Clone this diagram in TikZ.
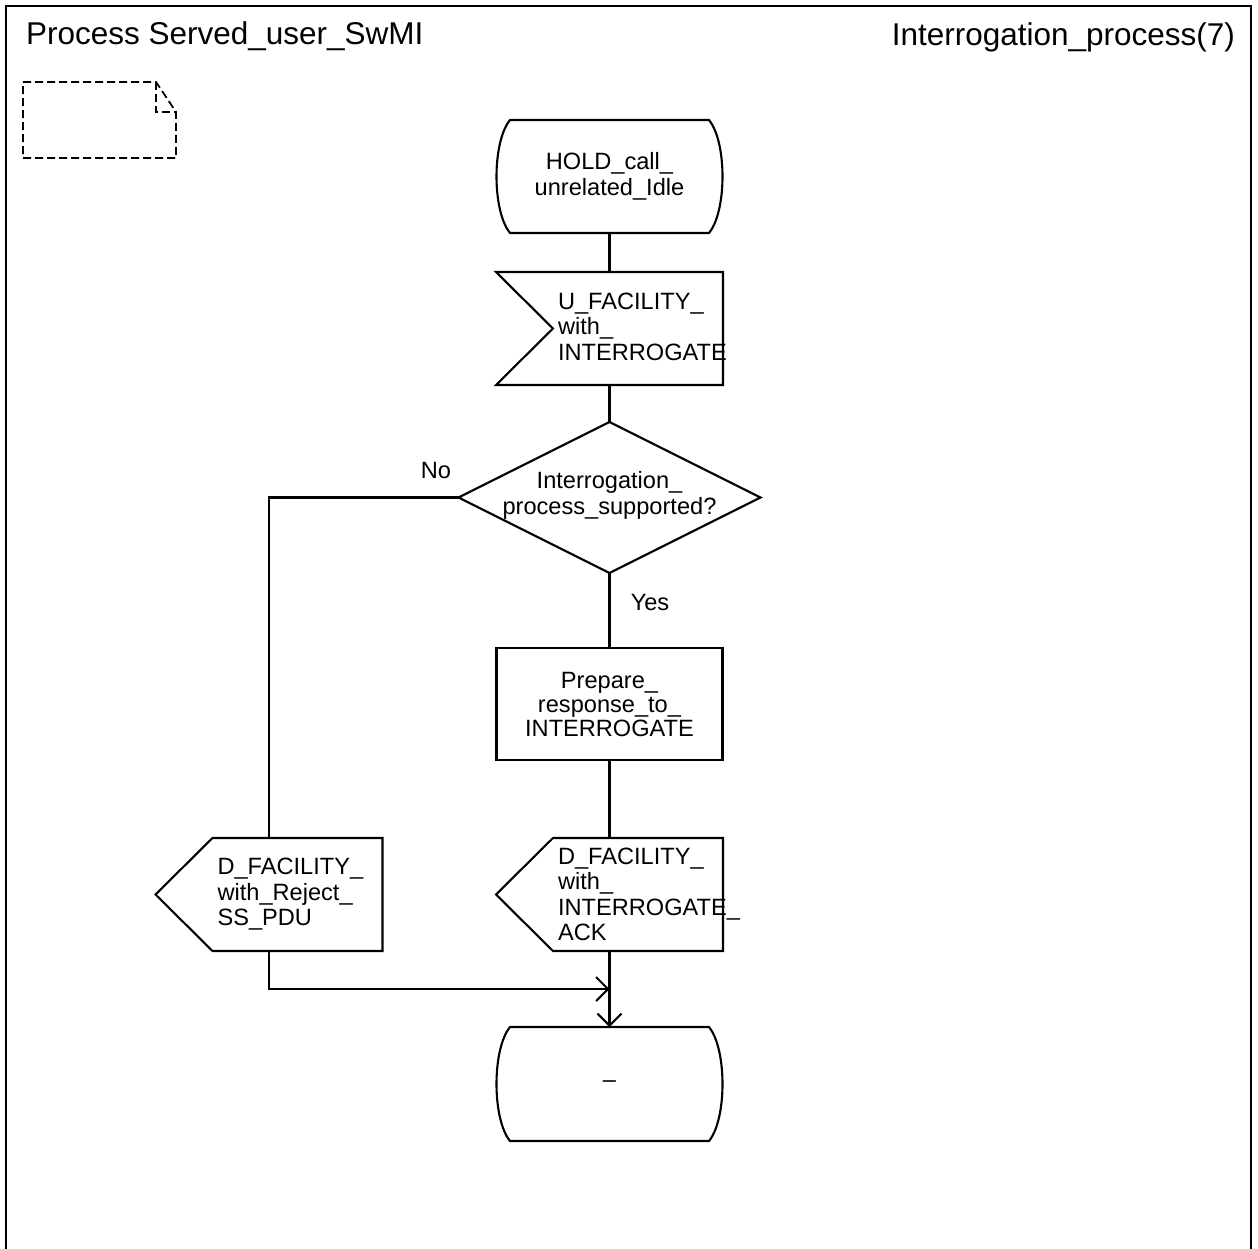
\documentclass[tikz,border=0pt]{standalone}
\usepackage{fontspec}
\setmainfont{Liberation Sans}
\usetikzlibrary{shapes.geometric,calc,arrows.meta}
\tikzset{
  every picture/.style={line width=2.1pt},
  txt/.style={font=\fontsize{23.6pt}{25.5pt}\selectfont, inner sep=0pt},
  ttl/.style={font=\fontsize{31.5pt}{33pt}\selectfont, inner sep=0pt},
  shapebox/.style={minimum width=227pt, minimum height=113pt, inner sep=0pt, outer sep=0pt},
  procbox/.style={draw, rectangle, minimum width=226pt, minimum height=112pt, inner sep=0pt, outer sep=0pt, align=center,
    font=\fontsize{23.6pt}{24pt}\selectfont},
  decbox/.style={draw, diamond, minimum width=302pt, minimum height=151pt, inner sep=0pt, outer sep=0pt},
  flow/.style={-{Straight Barb[length=12pt,width=24pt,line width=2.1pt]}},
  docsym/.style={dash pattern=on 8pt off 4pt, line width=1.8pt}
}
\newcommand\sdlstate[1]{%
  \draw ($(#1.north west)+(14,0)$) -- ($(#1.north east)+(-14,0)$)
    .. controls ($(#1.north east)+(4,22)$) and ($(#1.south east)+(4,-22)$) .. ($(#1.south east)+(-14,0)$)
    -- ($(#1.south west)+(14,0)$)
    .. controls ($(#1.south west)+(-4,-22)$) and ($(#1.north west)+(-4,22)$) .. cycle;}
\newcommand\sdlinput[1]{%
  \draw (#1.north west) -- (#1.north east) -- (#1.south east) -- (#1.south west)
    -- ($(#1.west)+(57,0)$) -- cycle;}
\newcommand\sdloutput[1]{%
  \draw ($(#1.north west)+(57,0)$) -- (#1.north east) -- (#1.south east)
    -- ($(#1.south west)+(57,0)$) -- (#1.west) -- cycle;}
\begin{document}
\begin{tikzpicture}[x=1pt,y=-1pt]
\useasboundingbox (0,0) rectangle (1258,1249);
% frame
\draw[line width=2.2pt] (6,1249) -- (6,6) -- (1251,6) -- (1251,1249);
\node[ttl, anchor=base west] (title) at (25,45) {Process Served\_user\_SwMI};
\node[ttl, anchor=base east] (page) at (1236,46) {Interrogation\_process(7)};
% document symbol
\draw[docsym] (23,82) -- (156,82) -- (176,112) -- (176,158) -- (23,158) -- cycle;
\draw[docsym] (156,82) -- (156,112) -- (176,112);

% start state
\node[shapebox, txt, align=center] (s1) at (609.5,176.5) {HOLD\_call\_\\unrelated\_Idle};
\sdlstate{s1}
% input
\node[shapebox] (in1) at (609.5,328.5) {};
\sdlinput{in1}
\node[txt, anchor=west, align=left] (in1t) at ($(in1.west)+(61,-2)$) {U\_FACILITY\_\\with\_\\INTERROGATE};
% decision
\node[decbox] (dec) at (609.5,497.5) {};
\node[txt, align=center] (dect) at ($(dec.center)+(0,-2)$) {Interrogation\_\\process\_supported?};
\node[txt] (no) at (436,470) {No};
\node[txt] (yes) at (650,602) {Yes};
% task
\node[procbox] (prep) at (609.5,704) {Prepare\_\\response\_to\_\\INTERROGATE};
% outputs
\node[shapebox] (out1) at (269,894.5) {};
\sdloutput{out1}
\node[txt, anchor=west, align=left] (out1t) at ($(out1.west)+(61,0)$) {D\_FACILITY\_\\with\_Reject\_\\SS\_PDU};
\node[shapebox] (out2) at (609.5,894.5) {};
\sdloutput{out2}
\node[txt, anchor=west, align=left] (out2t) at ($(out2.west)+(61,0)$) {D\_FACILITY\_\\with\_\\INTERROGATE\_\\ACK};
% end state
\node[shapebox, minimum height=114pt, txt] (s2) at (609.5,1084) {–};
\sdlstate{s2}
\coordinate (m) at (609.5,989);

% connectors
\draw (s1.south) -- (in1.north);
\draw (in1.south) -- (dec.north);
\draw (dec.south) -- (prep.north);
\draw (prep.south) -- (out2.north);
\draw (dec.west) -| (out1.north);
\draw[flow] (out1.south) |- (m);
\draw[flow] (out2.south) -- (s2.north);
\end{tikzpicture}
\end{document}
